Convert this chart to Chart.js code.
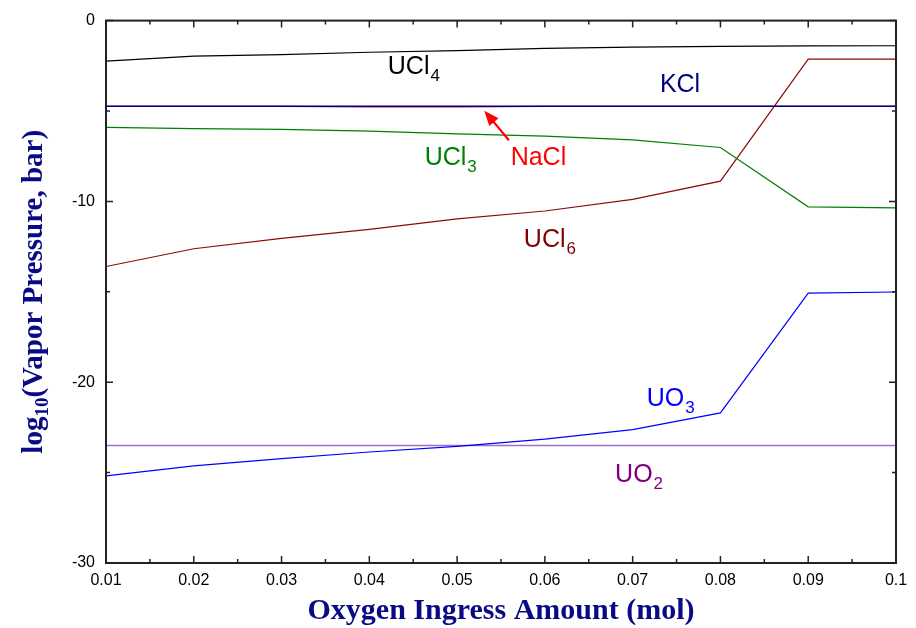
<!DOCTYPE html>
<html>
<head>
<meta charset="utf-8">
<script src="https://cdn.jsdelivr.net/npm/chart.js@4"></script>
<style>
  html, body { margin: 0; padding: 0; background: #fff; }
  #wrap { width: 916px; height: 628px; }
</style>
</head>
<body>
<div id="wrap"><canvas id="vaporChart" width="916" height="628"></canvas></div>
<script>
// oxygen ingress amount (mol)
const xValues = [0.01, 0.02, 0.03, 0.04, 0.05, 0.06, 0.07, 0.08, 0.09, 0.1];
const xTicks = [0.01, 0.02, 0.03, 0.04, 0.05, 0.06, 0.07, 0.08, 0.09, 0.1];
const yTicks = [0, -10, -20, -30];

// log10 vapor pressure (bar)
const ucl4 = [-2.24, -1.97, -1.88, -1.75, -1.66, -1.54, -1.47, -1.43, -1.4, -1.39];
const kcl = [-4.74, -4.74, -4.74, -4.74, -4.74, -4.74, -4.74, -4.74, -4.74, -4.74];
const nacl = [-4.74, -4.74, -4.74, -4.77, -4.77, -4.74, -4.74, -4.74, -4.74, -4.74];
const ucl3 = [-5.91, -5.97, -6.02, -6.11, -6.27, -6.39, -6.6, -7.02, -10.3, -10.36];
const ucl6 = [-13.6, -12.62, -12.04, -11.55, -10.97, -10.53, -9.89, -8.88, -2.13, -2.13];
const uo3 = [-25.18, -24.63, -24.23, -23.86, -23.55, -23.15, -22.62, -21.7, -15.07, -15.01];
const uo2 = [-23.5, -23.5, -23.5, -23.5, -23.5, -23.5, -23.5, -23.5, -23.5, -23.5];

// in-plot labels: text, subscript, x/y in data units (left, baseline)
const labels = [
  { text: 'UCl', sub: '4', x: 0.0421, y: -2.96, color: '#000000' },
  { text: 'KCl', sub: '', x: 0.0731, y: -3.94, color: '#000080' },
  { text: 'NaCl', sub: '', x: 0.0561, y: -7.99, color: '#ff0000' },
  { text: 'UCl', sub: '3', x: 0.0463, y: -7.99, color: '#008000' },
  { text: 'UCl', sub: '6', x: 0.0576, y: -12.53, color: '#800000' },
  { text: 'UO', sub: '3', x: 0.0716, y: -21.29, color: '#0000ff' },
  { text: 'UO', sub: '2', x: 0.068, y: -25.51, color: '#800080' }
];
const naclArrow = { x0: 0.0559, y0: -6.62, x1: 0.0531, y1: -4.98 };

const pts = arr => xValues.map((x, i) => ({ x, y: arr[i] }));

function series(label, arr, color, width) {
  return {
    label,
    data: pts(arr),
    borderColor: color,
    borderWidth: width || 1.2,
    pointRadius: 0,
    tension: 0,
    fill: false
  };
}

const decorPlugin = {
  id: 'decor',
  afterDraw(chart) {
    const { ctx, chartArea: a, scales } = chart;
    const xs = scales.x, ys = scales.y;
    ctx.save();

    // frame
    ctx.strokeStyle = '#222';
    ctx.lineWidth = 2;
    ctx.strokeRect(a.left, a.top, a.right - a.left, a.bottom - a.top);

    // inward ticks, major + minor
    ctx.lineWidth = 1.5;
    ctx.beginPath();
    xTicks.forEach((t, i) => {
      const px = xs.getPixelForValue(t);
      ctx.moveTo(px, a.bottom); ctx.lineTo(px, a.bottom - 7);
      ctx.moveTo(px, a.top); ctx.lineTo(px, a.top + 7);
      if (i < xTicks.length - 1) {
        const m = xs.getPixelForValue((t + xTicks[i + 1]) / 2);
        ctx.moveTo(m, a.bottom); ctx.lineTo(m, a.bottom - 4);
        ctx.moveTo(m, a.top); ctx.lineTo(m, a.top + 4);
      }
    });
    yTicks.forEach((t, i) => {
      const py = ys.getPixelForValue(t);
      ctx.moveTo(a.left, py); ctx.lineTo(a.left + 7, py);
      ctx.moveTo(a.right, py); ctx.lineTo(a.right - 7, py);
      if (i < yTicks.length - 1) {
        const m = ys.getPixelForValue((t + yTicks[i + 1]) / 2);
        ctx.moveTo(a.left, m); ctx.lineTo(a.left + 4, m);
        ctx.moveTo(a.right, m); ctx.lineTo(a.right - 4, m);
      }
    });
    ctx.stroke();

    // series labels
    ctx.textBaseline = 'alphabetic';
    ctx.textAlign = 'left';
    labels.forEach(l => {
      const px = xs.getPixelForValue(l.x);
      const py = ys.getPixelForValue(l.y);
      ctx.fillStyle = l.color;
      ctx.font = '25px "Liberation Sans", Arial, sans-serif';
      ctx.fillText(l.text, px, py);
      if (l.sub) {
        const w = ctx.measureText(l.text).width;
        ctx.font = '17px "Liberation Sans", Arial, sans-serif';
        ctx.fillText(l.sub, px + w + 1, py + 7);
      }
    });

    // NaCl arrow
    const ax0 = xs.getPixelForValue(naclArrow.x0), ay0 = ys.getPixelForValue(naclArrow.y0);
    const ax1 = xs.getPixelForValue(naclArrow.x1), ay1 = ys.getPixelForValue(naclArrow.y1);
    const ang = Math.atan2(ay1 - ay0, ax1 - ax0);
    ctx.strokeStyle = '#ff0000';
    ctx.fillStyle = '#ff0000';
    ctx.lineWidth = 2.2;
    ctx.beginPath();
    ctx.moveTo(ax0, ay0);
    ctx.lineTo(ax1 - 10 * Math.cos(ang), ay1 - 10 * Math.sin(ang));
    ctx.stroke();
    ctx.beginPath();
    ctx.moveTo(ax1, ay1);
    ctx.lineTo(ax1 - 15 * Math.cos(ang) + 6 * Math.sin(ang), ay1 - 15 * Math.sin(ang) - 6 * Math.cos(ang));
    ctx.lineTo(ax1 - 15 * Math.cos(ang) - 6 * Math.sin(ang), ay1 - 15 * Math.sin(ang) + 6 * Math.cos(ang));
    ctx.closePath();
    ctx.fill();

    // axis titles
    ctx.fillStyle = '#0a0a85';
    ctx.font = 'bold 30px "Liberation Serif", "Times New Roman", serif';
    ctx.textAlign = 'center';
    const cx = (a.left + a.right) / 2;
    ctx.fillText('Oxygen Ingress Amount (mol)', cx, 619);

    // y title with subscript, rotated
    const cy = (a.top + a.bottom) / 2;
    const bigFont = 'bold 29px "Liberation Serif", "Times New Roman", serif';
    const subFont = 'bold 19px "Liberation Serif", "Times New Roman", serif';
    ctx.font = bigFont;
    const w1 = ctx.measureText('log').width;
    const w3 = ctx.measureText('(Vapor Pressure, bar)').width;
    ctx.font = subFont;
    const w2 = ctx.measureText('10').width;
    const total = w1 + w2 + w3;
    ctx.translate(42, cy);
    ctx.rotate(-Math.PI / 2);
    ctx.textAlign = 'left';
    let sx = -total / 2;
    ctx.font = bigFont;
    ctx.fillText('log', sx, 0);
    sx += w1;
    ctx.font = subFont;
    ctx.fillText('10', sx, 6);
    sx += w2;
    ctx.font = bigFont;
    ctx.fillText('(Vapor Pressure, bar)', sx, 0);

    ctx.restore();
  }
};

// Chart.js paints dataset 0 last, so the first entries end up on top
const ctx = document.getElementById('vaporChart').getContext('2d');
new Chart(ctx, {
  type: 'line',
  data: {
    datasets: [
      series('UCl4', ucl4, '#000000'),
      series('KCl', kcl, '#000080', 1.4),
      series('NaCl', nacl, '#c01030', 1.2),
      series('UCl3', ucl3, '#008000'),
      series('UCl6', ucl6, '#8b0a0a'),
      series('UO3', uo3, '#0000ff'),
      series('UO2', uo2, '#9a70c8', 1.5)
    ]
  },
  options: {
    responsive: false,
    animation: false,
    layout: { padding: { top: 15, right: 20, left: 0, bottom: 0 } },
    plugins: {
      legend: { display: false },
      tooltip: { enabled: false }
    },
    scales: {
      x: {
        type: 'linear',
        min: 0.01,
        max: 0.1,
        afterBuildTicks: scale => { scale.ticks = xTicks.map(v => ({ value: v })); },
        afterFit: scale => { scale.height = 65; },
        grid: { display: false, drawTicks: false },
        border: { display: false },
        ticks: {
          padding: 8,
          color: '#000',
          font: { family: '"Liberation Sans", Arial, sans-serif', size: 16 },
          callback: v => String(+Number(v).toFixed(2))
        }
      },
      y: {
        type: 'linear',
        min: -30,
        max: 0,
        afterBuildTicks: scale => { scale.ticks = yTicks.map(v => ({ value: v })); },
        afterFit: scale => { scale.width = 106; },
        grid: { display: false, drawTicks: false },
        border: { display: false },
        ticks: {
          padding: 11,
          color: '#000',
          font: { family: '"Liberation Sans", Arial, sans-serif', size: 16 },
          callback: v => String(v)
        }
      }
    }
  },
  plugins: [decorPlugin]
});
</script>
</body>
</html>
